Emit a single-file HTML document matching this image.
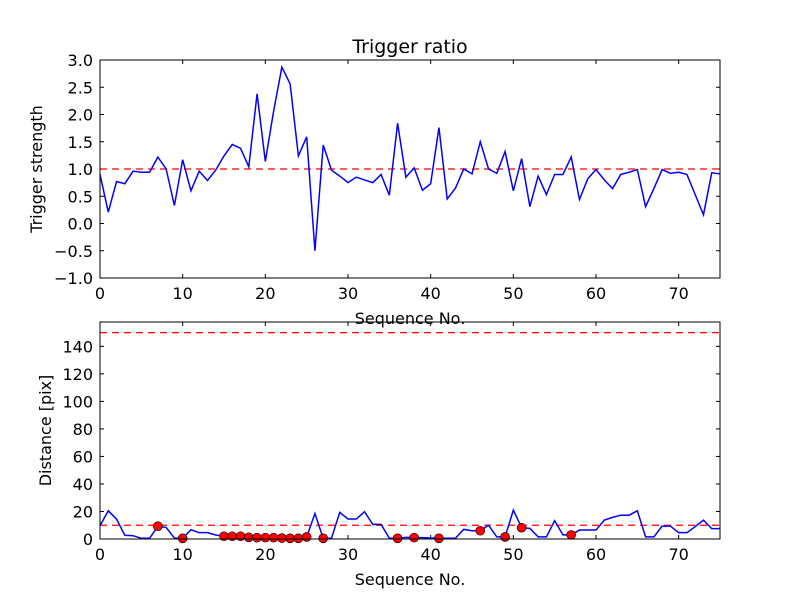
<!DOCTYPE html>
<html><head><meta charset="utf-8"><style>
body{margin:0;background:#fff;}
svg text{font-family:"DejaVu Sans","Liberation Sans",sans-serif;}
</style></head><body>
<svg id="chart" width="800" height="600" xmlns="http://www.w3.org/2000/svg">
<rect width="800" height="600" fill="#fff"/>
</svg>
<script>
const seqTop = [0.9,0.21,0.77,0.73,0.96,0.94,0.94,1.22,1.0,0.33,1.17,0.6,0.96,0.79,0.98,1.24,1.45,1.38,1.04,2.38,1.14,2.06,2.87,2.56,1.24,1.59,-0.5,1.44,0.98,0.87,0.75,0.85,0.8,0.75,0.9,0.52,1.84,0.85,1.02,0.61,0.73,1.76,0.45,0.65,1.0,0.91,1.5,1.0,0.92,1.32,0.6,1.19,0.31,0.87,0.53,0.9,0.9,1.22,0.44,0.82,0.99,0.8,0.64,0.9,0.94,0.99,0.31,0.64,0.99,0.92,0.94,0.9,0.53,0.16,0.93,0.91];
const distance = [9.6,20.5,14.5,2.7,2.4,0.5,0.5,9.3,8.4,0.7,0.5,6.7,4.6,4.6,2.9,2,2,2,1.2,1,1,1,0.7,0.5,0.5,1.5,18.5,0.5,0.5,19.3,14.5,14.5,19.8,10.6,10.6,0.5,0.5,1.2,1,1,0.7,0.5,0.5,0.5,7,6,6,10,1.5,1.5,21,8.2,7.7,1.5,1.5,13.3,3,3,6.5,6.5,6.5,13.7,15.7,17.3,17.3,20.5,1.5,1.5,9.4,9.4,4.6,4.6,9,13.7,7.5,7.5];
const flagged = [7,10,15,16,17,18,19,20,21,22,23,24,25,27,36,38,41,46,49,51,57];
const xTicks = [0,10,20,30,40,50,60,70];
const yTicksTop = [-1.0,-0.5,0.0,0.5,1.0,1.5,2.0,2.5,3.0];
const yTicksBot = [0,20,40,60,80,100,120,140];
const thresholdTop = 1.0, thresholdBotLow = 10, thresholdBotHigh = 150;

const NS="http://www.w3.org/2000/svg", svg=document.getElementById('chart');
function mk(t,a,p){const e=document.createElementNS(NS,t);for(const k in a)e.setAttribute(k,a[k]);(p||svg).appendChild(e);return e;}
const X0=100,X1=720;
const xs=v=>X0+(v/75)*(X1-X0);
const ysT=v=>60+(3-v)/4*218;
const ysB=v=>539-v*(217/157.7);

function axes(name,top,bot,ys,yt,fmt,xlabel,ylabel,ylx){
  const g=mk('g',{});
  
  
  xTicks.forEach(t=>{const x=xs(t);
    mk('line',{x1:x,x2:x,y1:bot,y2:bot-4,stroke:'#000'},g);
    mk('line',{x1:x,x2:x,y1:top,y2:top+4,stroke:'#000'},g);
    const tx=mk('text',{x:x,y:bot+21,'font-size':16,'text-anchor':'middle'},g);tx.textContent=t;
    
    
  });
  yt.forEach(t=>{const y=ys(t);
    mk('line',{x1:X0,x2:X0+4,y1:y,y2:y,stroke:'#000'},g);
    mk('line',{x1:X1,x2:X1-4,y1:y,y2:y,stroke:'#000'},g);
    const tx=mk('text',{x:X0-7,y:y+6,'font-size':16,'text-anchor':'end'},g);tx.textContent=fmt(t);
    
    
  });
  const xl=mk('text',{x:410,y:bot+46,'font-size':16,'text-anchor':'middle'},g);xl.textContent=xlabel;
  
  
  const cy=(top+bot)/2;
  const yl=mk('text',{x:0,y:0,'font-size':16,'text-anchor':'middle',transform:`translate(${ylx},${cy}) rotate(-90)`},g);yl.textContent=ylabel;
  
  
  return g;
}
function fmtT(t){return (t<0?'\u2212':'')+Math.abs(t).toFixed(1);}

// top plot
const gT=axes('top-axes',60,278,ysT,yTicksTop,fmtT,'Sequence No.','Trigger strength',42);
const thT=mk('line',{x1:X0,x2:X1,y1:ysT(thresholdTop),y2:ysT(thresholdTop),stroke:'#f00','stroke-width':1.3,'stroke-dasharray':'7,5'});


const lT=mk('polyline',{points:seqTop.map((v,i)=>xs(i)+','+ysT(v)).join(' '),fill:'none',stroke:'#00f','stroke-width':1.5});


mk('rect',{x:X0,y:60,width:X1-X0,height:218,fill:'none',stroke:'#000'});
const ttl=mk('text',{x:410,y:53,'font-size':19,'text-anchor':'middle'});ttl.textContent='Trigger ratio';



// bottom plot
const gB=axes('bottom-axes',322,539,ysB,yTicksBot,t=>t,'Sequence No.','Distance [pix]',51);
[thresholdBotLow,thresholdBotHigh].forEach(v=>{
  const l=mk('line',{x1:X0,x2:X1,y1:ysB(v),y2:ysB(v),stroke:'#f00','stroke-width':1.3,'stroke-dasharray':'7,5'});
  
  
});
const lB=mk('polyline',{points:distance.map((v,i)=>xs(i)+','+ysB(v)).join(' '),fill:'none',stroke:'#00f','stroke-width':1.5});


flagged.forEach(i=>{
  const c=mk('circle',{cx:xs(i),cy:ysB(distance[i]),r:4.5,fill:'#f00',stroke:'#000','stroke-width':0.6});
  
  
});
mk('rect',{x:X0,y:322,width:X1-X0,height:217,fill:'none',stroke:'#000'});
</script>
</body></html>
